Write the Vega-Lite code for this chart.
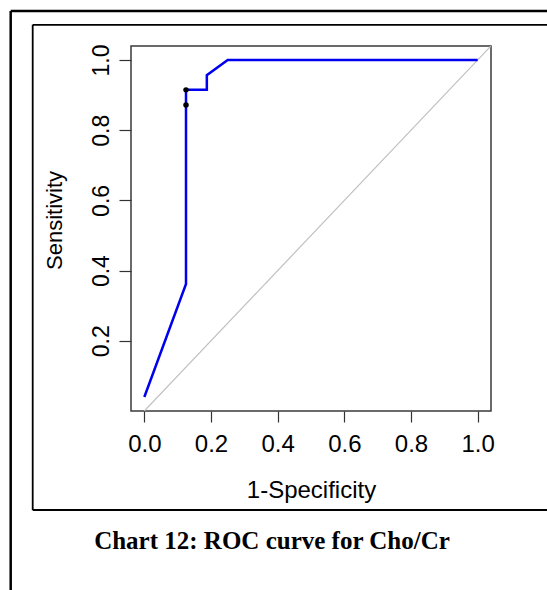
{
  "$schema": "https://vega.github.io/schema/vega-lite/v6.json",
  "width": 360,
  "height": 365,
  "autosize": "none",
  "padding": {"left": 131, "top": 46, "right": 56, "bottom": 179},
  "background": "white",
  "config": {
    "view": {"stroke": "#3a3a3a", "strokeWidth": 1.5},
    "font": "Liberation Sans"
  },
  "title": {
    "text": "Chart 12: ROC curve for Cho/Cr",
    "orient": "bottom",
    "anchor": "middle",
    "font": "Liberation Serif",
    "fontSize": 25,
    "fontWeight": "bold",
    "color": "black",
    "dx": -39,
    "offset": -62
  },
  "datasets": {
    "diag": [
      {"fpr": 0, "tpr": 0},
      {"fpr": 1.04, "tpr": 1.04}
    ],
    "roc": [
      {"step": 1, "fpr": 0, "tpr": 0.04},
      {"step": 2, "fpr": 0.125, "tpr": 0.362},
      {"step": 3, "fpr": 0.125, "tpr": 0.872},
      {"step": 4, "fpr": 0.125, "tpr": 0.915},
      {"step": 5, "fpr": 0.1875, "tpr": 0.915},
      {"step": 6, "fpr": 0.1875, "tpr": 0.957},
      {"step": 7, "fpr": 0.25, "tpr": 1.0},
      {"step": 8, "fpr": 1.0, "tpr": 1.0}
    ],
    "dots": [
      {"fpr": 0.125, "tpr": 0.872},
      {"fpr": 0.125, "tpr": 0.915}
    ],
    "one": [{}]
  },
  "layer": [
    {
      "data": {"name": "diag"},
      "mark": {"type": "line", "color": "#c0c0c0", "strokeWidth": 1.2, "clip": true},
      "encoding": {
        "x": {
          "field": "fpr",
          "type": "quantitative",
          "scale": {"domain": [-0.04, 1.04], "nice": false, "zero": false},
          "axis": {
            "title": "1-Specificity",
            "values": [0, 0.2, 0.4, 0.6, 0.8, 1],
            "format": ".1f",
            "grid": false,
            "domain": false,
            "tickSize": 11,
            "tickColor": "#333333",
            "tickWidth": 1.2,
            "labelFontSize": 24,
            "labelColor": "black",
            "labelPadding": 10,
            "labelFlush": false,
            "labelOverlap": false,
            "titleFontSize": 24,
            "titleFontWeight": "normal",
            "titleColor": "black",
            "titlePadding": 22
          }
        },
        "y": {
          "field": "tpr",
          "type": "quantitative",
          "scale": {"domain": [0, 1.04], "nice": false, "zero": false},
          "axis": {
            "title": "Sensitivity",
            "values": [0.2, 0.4, 0.6, 0.8, 1],
            "format": ".1f",
            "grid": false,
            "domain": false,
            "tickSize": 12,
            "tickColor": "#333333",
            "tickWidth": 1.2,
            "labelAngle": 270,
            "labelAlign": "center",
            "labelBaseline": "alphabetic",
            "labelFontSize": 23,
            "labelColor": "black",
            "labelPadding": 11,
            "labelFlush": false,
            "labelOverlap": false,
            "titleFontSize": 22,
            "titleFontWeight": "normal",
            "titleColor": "black",
            "titleBaseline": "alphabetic",
            "titlePadding": 29,
            "titleY": 174
          }
        }
      }
    },
    {
      "data": {"name": "roc"},
      "mark": {"type": "line", "color": "#0000ee", "strokeWidth": 2.5},
      "encoding": {
        "x": {"field": "fpr", "type": "quantitative"},
        "y": {"field": "tpr", "type": "quantitative"},
        "order": {"field": "step", "type": "quantitative"}
      }
    },
    {
      "data": {"name": "dots"},
      "mark": {"type": "circle", "color": "black", "size": 30, "opacity": 1},
      "encoding": {
        "x": {"field": "fpr", "type": "quantitative"},
        "y": {"field": "tpr", "type": "quantitative"}
      }
    },
    {
      "data": {"name": "one"},
      "mark": {"type": "rule", "color": "black", "strokeWidth": 2.5, "clip": false},
      "encoding": {
        "x": {"datum": -0.4009, "type": "quantitative"},
        "y": {"datum": -0.51, "type": "quantitative"},
        "y2": {"datum": 1.1396}
      }
    },
    {
      "data": {"name": "one"},
      "mark": {"type": "rule", "color": "black", "strokeWidth": 2.5, "clip": false},
      "encoding": {
        "x": {"datum": -0.4009, "type": "quantitative"},
        "x2": {"datum": 1.4},
        "y": {"datum": 1.1396, "type": "quantitative"}
      }
    },
    {
      "data": {"name": "one"},
      "mark": {"type": "rule", "color": "black", "strokeWidth": 1.8, "clip": false},
      "encoding": {
        "x": {"datum": -0.3349, "type": "quantitative"},
        "y": {"datum": -0.2821, "type": "quantitative"},
        "y2": {"datum": 1.1004}
      }
    },
    {
      "data": {"name": "one"},
      "mark": {"type": "rule", "color": "black", "strokeWidth": 1.8, "clip": false},
      "encoding": {
        "x": {"datum": -0.3349, "type": "quantitative"},
        "x2": {"datum": 1.4},
        "y": {"datum": 1.1004, "type": "quantitative"}
      }
    },
    {
      "data": {"name": "one"},
      "mark": {"type": "rule", "color": "black", "strokeWidth": 1.8, "clip": false},
      "encoding": {
        "x": {"datum": -0.3349, "type": "quantitative"},
        "x2": {"datum": 1.4},
        "y": {"datum": -0.2821, "type": "quantitative"}
      }
    }
  ]
}
